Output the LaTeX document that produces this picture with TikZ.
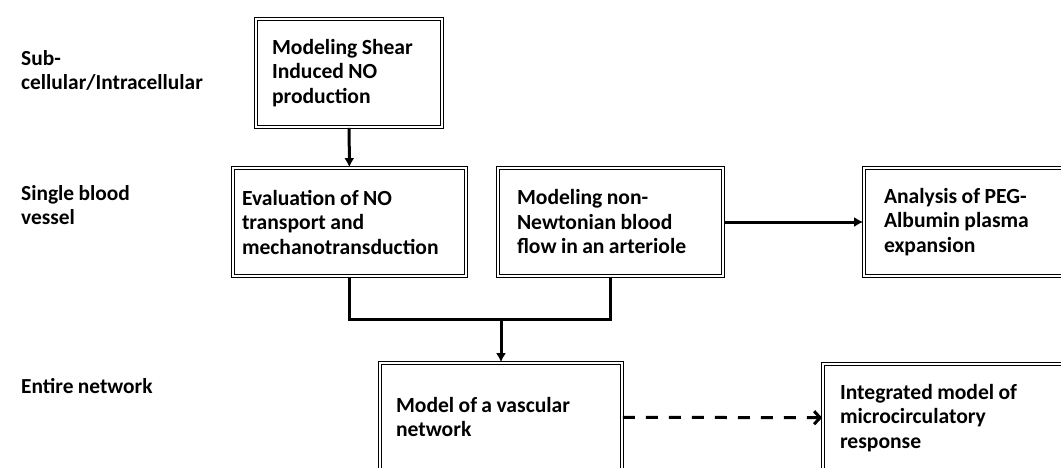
\documentclass[tikz,border=0pt]{standalone}
\usepackage{fontspec}
\setmainfont[WordSpace=0.9]{Carlito}
\usetikzlibrary{arrows.meta}

\begin{document}
\begin{tikzpicture}[x=1pt, y=-1pt,
  box/.style={draw, line width=1.7pt, double=white, double distance=1.1pt,
    minimum height=108, align=flush left, inner sep=0pt,
    font=\bfseries\fontsize{21.6}{24.5}\selectfont},
  lvl/.style={anchor=north west, inner sep=0pt, align=left,
    font=\bfseries\fontsize{21.4}{24}\selectfont},
  link/.style={line width=3pt},
  arr/.style={link, -{Latex[length=9pt, width=10pt]}}]
\useasboundingbox (0,0) rectangle (1061,468);
\clip (0,0) rectangle (1061,468);
% levels
\node[lvl] (subcell) at (21,50) {Sub-\\cellular/Intracellular};
\node[lvl] (single) at (21,185) {Single blood\\vessel};
\node[lvl] (entire) at (21,378) {Entire network};
% boxes
\node[box, minimum width=186, text width=154] (shear) at (349,73) {Modeling Shear\\Induced NO\\production};
\node[box, minimum width=233, text width=215] (eval) at (349.5,222) {Evaluation of NO\\transport and\\mechanotransduction};
\node[box, minimum width=225, text width=187] (flow) at (610.5,222) {Modeling non-\\Newtonian blood\\flow in an arteriole};
\node[box, minimum width=225, text width=185] (peg) at (976.5,222) {Analysis of PEG-\\Albumin plasma\\expansion};
\node[box, minimum width=242, text width=210] (net) at (501,417) {Model of a vascular\\network};
\node[box, minimum width=260, text width=226] (micro) at (953,418) {Integrated model of\\microcirculatory\\response};
% connectors
\coordinate (join) at (501,319);
\draw[arr] (shear) -- (eval);
\draw[arr] (flow) -- (peg);
\draw[link] (eval.south) |- (join) -| (flow.south);
\draw[arr] (join) -- (net);
\draw[link, dash pattern=on 12pt off 11pt, -{Straight Barb[length=6pt, width=13pt]}] (net) -- (micro);
\end{tikzpicture}
\end{document}
